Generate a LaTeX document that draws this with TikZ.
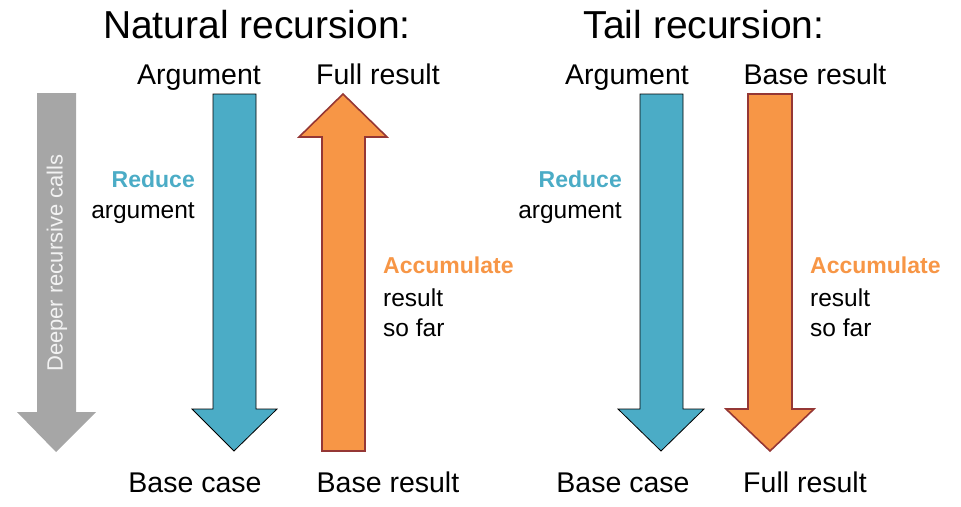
\documentclass[tikz,border=0pt]{standalone}
\usepackage{fontspec}
\setmainfont{Liberation Sans}
\definecolor{accblue}{HTML}{4BACC6}
\definecolor{accorange}{HTML}{F79646}
\definecolor{accred}{HTML}{953735}
\definecolor{callgray}{HTML}{A6A6A6}
\begin{document}
\begin{tikzpicture}[x=1pt,y=-1pt,
  title/.style={font=\fontsize{39}{46}\selectfont, inner sep=0pt, anchor=base},
  endlabel/.style={font=\fontsize{28.5}{34}\selectfont, inner sep=0pt, anchor=base},
  sidelabel/.style={font=\fontsize{24.5}{29}\selectfont, inner sep=0pt},
  boldlabel/.style={font=\fontsize{23}{28}\selectfont\bfseries, inner sep=0pt},
  bluearrow/.style={fill=accblue, draw=black, line width=0.8pt, line join=miter},
  orangearrow/.style={fill=accorange, draw=accred, line width=1.6pt, line join=miter},
  grayarrow/.style={fill=callgray, draw=none}]
\useasboundingbox (0,0) rectangle (961,506);

% titles
\node[title] (t1) at (257,38) {Natural recursion:};
\node[title] (t2) at (704,38) {Tail recursion:};

% depth indicator
\fill[grayarrow] (37,93) -- (76,93) -- (76,412) -- (96,412) -- (56,452) -- (17,412) -- (37,412) -- cycle;
\node[font=\fontsize{22}{26}\selectfont, text=white!95!black, rotate=90, inner sep=0pt] (deep) at (57,263) {Deeper recursive calls};

% natural recursion arrows
\draw[bluearrow] (213,94) -- (256,94) -- (256,409) -- (277,409) -- (234,451) -- (192,409) -- (213,409) -- cycle;
\draw[orangearrow] (322,451) -- (365,451) -- (365,137) -- (387,137) -- (343,94) -- (299,137) -- (322,137) -- cycle;

% tail recursion arrows
\draw[bluearrow] (640,94) -- (683,94) -- (683,409) -- (704,409) -- (661,451) -- (618,409) -- (640,409) -- cycle;
\draw[orangearrow] (748,94) -- (792,94) -- (792,409) -- (814,409) -- (770,451) -- (726,409) -- (748,409) -- cycle;

% end labels
\node[endlabel] (a1) at (199,84) {Argument};
\node[endlabel] (f1) at (378,84) {Full result};
\node[endlabel] (a2) at (627,84) {Argument};
\node[endlabel] (b2) at (815,84) {Base result};
\node[endlabel] (c1) at (195,492) {Base case};
\node[endlabel] (r1) at (388,492) {Base result};
\node[endlabel] (c2) at (623,492) {Base case};
\node[endlabel] (f2) at (805,492) {Full result};

% side labels
\node[boldlabel, anchor=base east, text=accblue] (red1) at (195,187) {Reduce};
\node[sidelabel, anchor=base east] (arg1) at (195,218) {argument};
\node[boldlabel, anchor=base east, text=accblue] (red2) at (622,187) {Reduce};
\node[sidelabel, anchor=base east] (arg2) at (622,218) {argument};

\node[boldlabel, anchor=base west, text=accorange] (acc1) at (383,273) {Accumulate};
\node[sidelabel, anchor=base west] (res1) at (383,306) {result};
\node[sidelabel, anchor=base west] (sof1) at (383,336) {so far};
\node[boldlabel, anchor=base west, text=accorange] (acc2) at (810,273) {Accumulate};
\node[sidelabel, anchor=base west] (res2) at (810,306) {result};
\node[sidelabel, anchor=base west] (sof2) at (810,336) {so far};
\end{tikzpicture}
\end{document}
